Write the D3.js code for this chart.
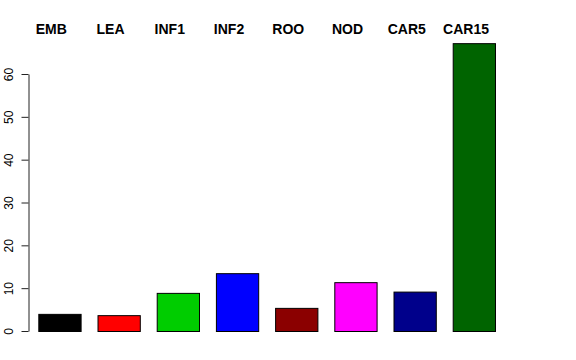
<!DOCTYPE html>
<html>
<head>
<meta charset="utf-8">
<script src="https://cdn.jsdelivr.net/npm/d3@7"></script>
<style>
  body { margin: 0; background: #fff; }
  svg { display: block; }
  text { font-family: "Liberation Sans", Arial, Helvetica, sans-serif; }
</style>
</head>
<body>
<div id="chart"></div>
<script>
// data
var categories = ["EMB", "LEA", "INF1", "INF2", "ROO", "NOD", "CAR5", "CAR15"];
var values = [4.0, 3.7, 8.9, 13.5, 5.4, 11.4, 9.2, 67.2];
var colors = ["#000000", "#ff0000", "#00cd00", "#0000ff", "#8b0000", "#ff00ff", "#00008b", "#006400"];
var yTicks = [0, 10, 20, 30, 40, 50, 60];

var width = 576, height = 360;

var svg = d3.select("#chart")
  .append("svg")
  .attr("width", width)
  .attr("height", height);

// bars: width 1, space 0.4 like an R barplot
var x = d3.scaleBand()
  .domain(categories)
  .range([21.4, 511.9])
  .paddingInner(0.2857)
  .paddingOuter(0.2857);

var y = d3.scaleLinear()
  .domain([0, 60])
  .range([331, 74]);

// the labels on top sit a bit left of the bar centres
var xLab = d3.scalePoint()
  .domain(categories)
  .range([51.3, 466]);

svg.append("g")
  .selectAll("rect")
  .data(values)
  .join("rect")
  .attr("x", (d, i) => x(categories[i]) + 0.5)
  .attr("y", d => y(d) + 0.5)
  .attr("width", x.bandwidth())
  .attr("height", d => y(0) - y(d))
  .attr("fill", (d, i) => colors[i])
  .attr("stroke", "#000")
  .attr("stroke-width", 1);

// y axis
var yAxis = svg.append("g")
  .attr("transform", "translate(28.5,0)")
  .call(d3.axisLeft(y).tickValues(yTicks).tickSize(7).tickSizeOuter(0).tickFormat(d3.format("d")));
yAxis.select(".domain").attr("stroke", "#222");
yAxis.selectAll(".tick line").attr("stroke", "#222");
yAxis.selectAll(".tick text")
  .attr("font-size", 12)
  .attr("fill", "#000")
  .attr("x", 0)
  .attr("dy", 0)
  .attr("text-anchor", "middle")
  .attr("transform", "translate(-16,0) rotate(-90)");

// category labels across the top
svg.append("g")
  .selectAll("text")
  .data(categories)
  .join("text")
  .attr("x", d => xLab(d))
  .attr("y", 34)
  .attr("text-anchor", "middle")
  .attr("font-size", 14)
  .attr("font-weight", "bold")
  .attr("fill", "#000")
  .text(d => d);
</script>
</body>
</html>
